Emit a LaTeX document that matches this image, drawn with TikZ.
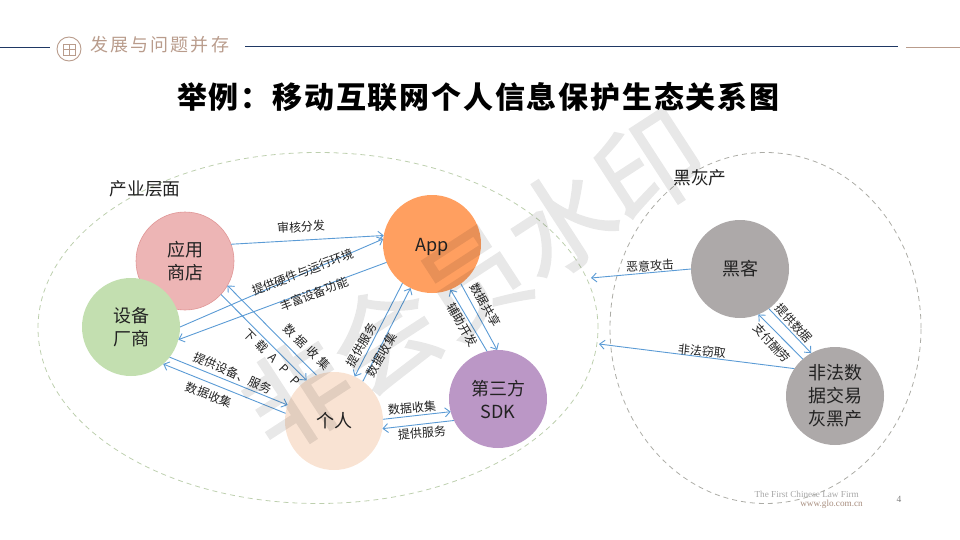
\documentclass[tikz,border=0pt]{standalone}
\usepackage{fontspec}
\usetikzlibrary{arrows.meta,shapes.geometric}
\setmainfont{Liberation Serif}
\newfontfamily\cjk{Noto Sans CJK SC}
\newfontfamily\cjkwide[LetterSpace=12]{Noto Sans CJK SC}
\newfontfamily\cjkhead[LetterSpace=6]{Noto Sans CJK SC}
\newfontfamily\cjkmark[FakeBold=1.6]{Noto Sans CJK SC}
\definecolor{navy}{HTML}{1F3864}
\definecolor{tan}{HTML}{B99C8C}
\definecolor{flow}{HTML}{5B9BD5}
\definecolor{ink}{HTML}{222222}
\definecolor{zonegreen}{HTML}{BDCFAE}
\definecolor{zonegray}{HTML}{ACACA6}
\definecolor{shopfill}{RGB}{237,181,181}
\definecolor{shopline}{RGB}{224,150,150}
\definecolor{devicefill}{RGB}{195,223,176}
\definecolor{appfill}{RGB}{255,159,96}
\definecolor{personfill}{RGB}{249,227,211}
\definecolor{sdkfill}{RGB}{187,151,198}
\definecolor{hackfill}{RGB}{173,169,169}
\newcommand{\gl}[2][16pt]{\makebox[#1]{#2}}
\tikzset{
  actor/.style={circle,minimum size=98pt,inner sep=0pt,outer sep=0pt,align=center,text=ink,font=\cjk\fontsize{18}{23}\selectfont},
  lower/.style={execute at begin node={\rule{0pt}{20pt}}},
  zone/.style={ellipse,draw,dash pattern=on 5pt off 4pt,line width=.8pt,inner sep=0pt,outer sep=0pt},
  flowline/.style={draw=flow,line width=.9pt,-{Straight Barb[length=5pt,width=9pt]}},
  lab/.style={inner sep=0pt,text=ink,font=\cjk\fontsize{12}{14}\selectfont},
  zonelab/.style={inner sep=0pt,text=ink,font=\cjk\fontsize{17.7}{20}\selectfont},
}
\begin{document}
\begin{tikzpicture}[x=1pt,y=-1pt]
\useasboundingbox (0,0) rectangle (960,540);
% header
\coordinate (hl1) at (0,48); \coordinate (hl2) at (50,48);
\coordinate (hl3) at (245,47); \coordinate (hl4) at (898,47);
\coordinate (hl5) at (906,48); \coordinate (hl6) at (960,48);
\draw[navy,line width=1pt] (hl1)--(hl2);
\draw[navy,line width=1pt] (hl3)--(hl4);
\draw[tan,line width=1pt] (hl5)--(hl6);
\draw[tan,line width=.9pt] (69,49) circle (12);
\draw[tan,line width=.7pt] (63,44) rectangle (75,55) (69,44)--(69,55) (63,49)--(69,49) (69,49)--(75,49);
\node[inner sep=0pt,anchor=west,text=tan,font=\cjkwide\fontsize{18}{20}\selectfont] (head) at (90,45) {发展与问题并存};
\node[inner sep=0pt,anchor=west,text=black,font=\cjkhead\fontsize{30}{32}\bfseries\selectfont] (title) at (177,97) {举例\char"FF1A 移动互联网个人信息保护生态关系图};
% zones
\node[zone,draw=zonegreen,minimum width=560pt,minimum height=351pt] (industry) at (318,328) {};
\node[zone,draw=zonegray,minimum width=311pt,minimum height=351pt] (black) at (765.5,328) {};
\node[zonelab] (zl1) at (145,189) {产业层面};
\node[zonelab] (zl2) at (700,178) {黑灰产};
% actors
\node[actor,fill=shopfill,draw=shopline,line width=.6pt,lower] (shop) at (185,261) {应用\\商店};
\node[actor,fill=devicefill] (device) at (131,327) {设备\\厂商};
\node[actor,fill=appfill,lower] (app) at (432,244) {App};
\node[actor,fill=personfill] (person) at (334,421) {个人};
\node[actor,fill=sdkfill,lower] (sdk) at (498,399) {第三方\\SDK};
\node[actor,fill=hackfill] (hacker) at (740,269) {黑客};
\node[actor,fill=hackfill] (market) at (835,396) {非法数\\据交易\\灰黑产};
% connectors
\path[flowline] (shop.20) -- (app.170);
\path[flowline] (device.0) -- (app.174);
\path[flowline] (app.202) -- (device.-15);
\path[flowline] (shop.-43) -- (person.124);
\path[flowline] (person.111) -- (shop.-30);
\path[flowline] (device.-38) -- (person.161);
\path[flowline] (person.171) -- (device.-49);
\path[flowline] (app.233) -- (person.65);
\path[flowline] (person.54) -- (app.244);
\path[flowline] (app.-54) -- (sdk.91);
\path[flowline] (sdk.103) -- (app.-68);
\path[flowline] (person.2) -- (sdk.195);
\path[flowline] (sdk.206) -- (person.-9);
\coordinate (attack) at (591,278);
\coordinate (steal) at (599,344);
\path[flowline] (hacker.180) -- (attack);
\path[flowline] (market.146) -- (steal);
\path[flowline] (hacker.-54) -- (market.119);
\path[flowline] (market.131) -- (hacker.-68);
% labels
\node[lab,rotate=3] (l1) at (301,227) {审核分发};
\node[lab,rotate=21] (l2) at (303,272) {提供硬件与运行环境};
\node[lab,rotate=21] (l3) at (314,294) {丰富设备功能};
\node[lab,rotate=-45] (l4) at (273,358) {\gl{下}\gl{载}\gl{A}\gl{P}\gl{P}};
\node[lab,rotate=-45] (l5) at (307,347) {\gl{数}\gl{据}\gl{收}\gl{集}};
\node[lab,rotate=-24] (l6) at (233,373) {提供设备、服务};
\node[lab,rotate=-21] (l7) at (209,395) {数据收集};
\node[lab,rotate=60] (l8) at (362,345) {提供服务};
\node[lab,rotate=60] (l9) at (382,355) {数据收集};
\node[lab,rotate=-60] (l10) at (462,325) {辅助开发};
\node[lab,rotate=-60] (l11) at (485,305) {数据共享};
\node[lab,rotate=5] (l12) at (412,408) {数据收集};
\node[lab,rotate=5] (l13) at (422,433) {提供服务};
\node[lab,rotate=3] (l14) at (650,266) {恶意攻击};
\node[lab,rotate=-6] (l15) at (702,351) {非法窃取};
\node[lab,rotate=-48] (l16) at (794,323) {提供数据};
\node[lab,rotate=-48] (l17) at (772,343) {支付酬劳};
% footer
\node[inner sep=0pt,anchor=east,text=gray!70,font=\fontsize{9.2}{10}\selectfont] (f1) at (859,494) {The First Chinese Law Firm};
\node[inner sep=0pt,anchor=east,text=tan!90!black,font=\fontsize{9.2}{10}\selectfont] (f2) at (863,504) {www.glo.com.cn};
\node[inner sep=0pt,text=gray,font=\fontsize{9.5}{10}\selectfont] (f3) at (899,499) {4};
% watermark
\begin{scope}[transparency group,opacity=.09]
\node[inner sep=0pt,rotate=33,text=black,font=\cjkmark\fontsize{105}{110}\selectfont] (mark) at (473,280) {非会员水印};
\end{scope}
\end{tikzpicture}
\end{document}
